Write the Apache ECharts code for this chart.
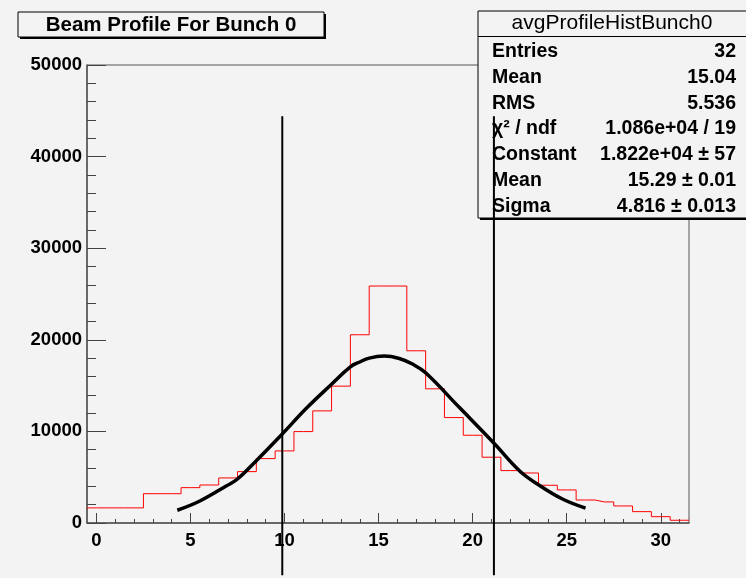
<!DOCTYPE html>
<html>
<head>
<meta charset="utf-8">
<script src="https://cdn.jsdelivr.net/npm/echarts@6/dist/echarts.min.js"></script>
<style>
  html, body { margin: 0; padding: 0; background: #f3f3f3; }
  #main { width: 746px; height: 578px; }
</style>
</head>
<body>
<div id="main"></div>
<script>
// bin centres 0..31, bin width 1
var binCenters = [0,1,2,3,4,5,6,7,8,9,10,11,12,13,14,15,16,17,18,19,20,21,22,23,24,25,26,27,28,29,30,31];
var binCounts = [1650,1650,1650,3200,3200,3860,4150,4920,5610,7030,7870,9980,12240,14940,20550,25870,
                 25870,18800,14650,11510,9580,7180,5720,5460,4120,3610,2510,2300,1860,1240,690,300];

// fit curve
var fitX = [4.3,5.5,6.9,7.5,8.5,9.8,11.2,12.5,13.5,14.0,14.5,15.3,16.1,16.8,17.5,19.3,21.1,22.5,23.6,24.8,26.0];
var fitY = [1390,2400,4040,4800,6800,9550,12600,15150,17050,17580,18000,18220,17960,17350,16400,12600,8780,5680,4040,2590,1620];

// vertical marker lines
var cutX = [9.88, 21.13];

var xMajor = [0,5,10,15,20,25,30];
var yMax = 50000;

var statLabels = ['Entries','Mean','RMS','\u03c7\u00b2 / ndf','Constant','Mean','Sigma'];
var statValues = ['32','15.04','5.536','1.086e+04 / 19','1.822e+04 \u00b1 57','15.29 \u00b1 0.01','4.816 \u00b1 0.013'];

var myChart = echarts.init(document.getElementById('main'));

var histData = [[-0.5, binCounts[0]]];
for (var i = 0; i < binCenters.length; i++) {
    histData.push([binCenters[i], binCounts[i]]);
}
histData.push([31.5, binCounts[binCounts.length - 1]]);

var fitData = fitX.map(function (x, i) { return [x, fitY[i]]; });

var FONT = '"Liberation Sans", Arial, sans-serif';

// title box + stats box
var graphics = [
    { type: 'rect', z: 1, shape: { x: 18 + 2, y: 12 + 2, width: 306, height: 25 }, style: { fill: '#000' } },
    { type: 'rect', z: 1, shape: { x: 18, y: 12, width: 306, height: 25 }, style: { fill: '#f3f3f3', stroke: '#000', lineWidth: 1 } },
    { type: 'text', z: 1, style: { text: 'Beam Profile For Bunch 0', x: 171, y: 25, textAlign: 'center', textVerticalAlign: 'middle',
        font: 'bold 20.5px ' + FONT, fill: '#000' } },
    { type: 'rect', z: 1, shape: { x: 478 + 2, y: 11 + 2, width: 300, height: 207 }, style: { fill: '#000' } },
    { type: 'rect', z: 1, shape: { x: 478, y: 11, width: 300, height: 207 }, style: { fill: '#f3f3f3', stroke: '#000', lineWidth: 1 } },
    { type: 'line', z: 1, shape: { x1: 478, y1: 36.5, x2: 746, y2: 36.5 }, style: { stroke: '#000', lineWidth: 1 } },
    { type: 'text', z: 1, style: { text: 'avgProfileHistBunch0', x: 612, y: 23, textAlign: 'center', textVerticalAlign: 'middle',
        font: '21px ' + FONT, fill: '#000' } }
];
for (var k = 0; k < statLabels.length; k++) {
    var yy = 52 + k * 25.7;
    graphics.push({ type: 'text', z: 1, style: { text: statLabels[k], x: 492, y: yy, textAlign: 'left', textVerticalAlign: 'middle',
        font: 'bold 19.5px ' + FONT, fill: '#000' } });
    graphics.push({ type: 'text', z: 1, style: { text: statValues[k], x: 736, y: yy, textAlign: 'right', textVerticalAlign: 'middle',
        font: 'bold 19.5px ' + FONT, fill: '#000' } });
}

var option = {
    backgroundColor: '#f3f3f3',
    animation: false,
    grid: {
        left: 87,
        top: 65,
        width: 602,
        height: 458,
        show: true,
        backgroundColor: '#f3f3f3',
        borderColor: '#555',
        borderWidth: 1
    },
    xAxis: [{
        type: 'value',
        min: -0.5,
        max: 31.5,
        axisLine: { show: true, onZero: false, lineStyle: { color: '#555', width: 1.5 } },
        axisTick: { show: true, inside: true, length: 10, customValues: xMajor, lineStyle: { color: '#444' } },
        axisLabel: { show: true, customValues: xMajor, margin: 8, color: '#000',
            fontFamily: FONT, fontWeight: 'bold', fontSize: 18.5 },
        splitLine: { show: false }
    }, {
        type: 'value',
        position: 'bottom',
        min: -0.5,
        max: 31.5,
        axisLine: { show: false },
        axisTick: { show: true, inside: true, length: 4, customValues: binCenters, lineStyle: { color: '#444' } },
        axisLabel: { show: false },
        splitLine: { show: false }
    }],
    yAxis: {
        type: 'value',
        min: 0,
        max: yMax,
        interval: 10000,
        axisLine: { show: true, onZero: false, lineStyle: { color: '#555', width: 1.5 } },
        axisTick: { show: true, inside: true, length: 19, lineStyle: { color: '#444' } },
        minorTick: { show: true, splitNumber: 5, length: 9, lineStyle: { color: '#444' } },
        axisLabel: { margin: 5, color: '#000', fontFamily: FONT, fontWeight: 'bold', fontSize: 18.5,
            formatter: function (v) { return String(v); } },
        splitLine: { show: false }
    },
    graphic: graphics,
    series: [{
        name: 'hist',
        type: 'line',
        step: 'middle',
        data: histData,
        showSymbol: false,
        lineStyle: { color: '#ff0000', width: 1 },
        z: 3
    }, {
        name: 'fit',
        type: 'line',
        smooth: 0.4,
        data: fitData,
        showSymbol: false,
        lineStyle: { color: '#000', width: 3.5 },
        z: 4
    }, {
        name: 'cuts',
        type: 'custom',
        clip: false,
        data: cutX,
        renderItem: function (params, api) {
            var x = api.value(0);
            var p1 = api.coord([x, 44400]);
            var p2 = api.coord([x, -5700]);
            return {
                type: 'line',
                shape: { x1: p1[0], y1: p1[1], x2: p2[0], y2: p2[1] },
                style: { stroke: '#000', lineWidth: 2 }
            };
        },
        encode: { x: 0 },
        z: 5
    }]
};

myChart.setOption(option);
</script>
</body>
</html>
